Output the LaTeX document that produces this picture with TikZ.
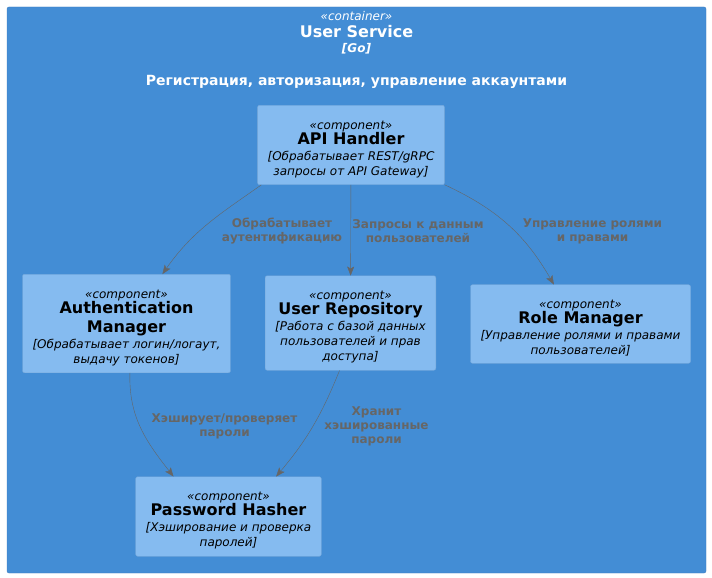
\documentclass[tikz,border=0pt]{standalone}
\usepackage{fontspec}
\setmainfont{DejaVu Sans}
\usetikzlibrary{positioning}
\usetikzlibrary{arrows.meta}

\definecolor{containerfill}{HTML}{438DD5}
\definecolor{containerline}{HTML}{3C7CBF}
\definecolor{compfill}{HTML}{85BBF0}
\definecolor{compline}{HTML}{78A8D8}
\definecolor{relgray}{HTML}{666666}

\newcommand{\stereo}{\rule{0pt}{17pt}\itshape\fontsize{12}{15}\selectfont}
\newcommand{\cname}{\bfseries\fontsize{16}{15}\selectfont}
\newcommand{\cdesc}{\itshape\fontsize{12}{15}\selectfont}

\tikzset{
  box/.style       = { rectangle, rounded corners=2pt },
  container/.style = { box, draw=containerline, fill=containerfill },
  component/.style = { box, draw=compline, fill=compfill, text=black,
                       align=center, inner xsep=10pt, inner ysep=7pt,
                       font=\fontsize{12}{15}\selectfont },
  rel/.style       = { draw=relgray, thin,
                       -{Stealth[length=9pt,width=7pt,inset=2pt]} },
  rellabel/.style  = { text=relgray, align=center,
                       font=\bfseries\fontsize{12}{14}\selectfont },
}

\begin{document}
\begin{tikzpicture}[x=1pt,y=-1pt]
  \useasboundingbox (0,0) rectangle (712,578);

  \node (usersvc) [container,minimum width=699pt,minimum height=566pt] at (356.5,290) {};
  \node (usertitle) [below=1pt of usersvc.north,align=center,text=white,
                     font=\fontsize{12}{16}\selectfont] {%
    \itshape\fontsize{12}{16}\selectfont «container»\\[1pt]
    \bfseries\fontsize{16}{16}\selectfont User Service\\[-1pt]
    \bfseries\itshape\fontsize{12}{16}\selectfont [Go]\\[17pt]
    \bfseries\fontsize{14}{16}\selectfont Регистрация, авторизация, управление аккаунтами};

  \node (api) [component] at (351,145) {%
    \stereo «component»\\
    \cname API Handler\\[1pt]
    \cdesc [Обрабатывает REST/gRPC\\
    \cdesc запросы от API Gateway]};
  \node (auth) [component] at (126.5,323.5) {%
    \stereo «component»\\
    \cname Authentication\\[4pt]
    \cname Manager\\[1pt]
    \cdesc [Обрабатывает логин/логаут,\\
    \cdesc выдачу токенов]};
  \node (repo) [component] at (350.5,323) {%
    \stereo «component»\\
    \cname User Repository\\[1pt]
    \cdesc [Работа с базой данных\\
    \cdesc пользователей и прав\\
    \cdesc доступа]};
  \node (role) [component] at (580.5,324) {%
    \stereo «component»\\
    \cname Role Manager\\[1pt]
    \cdesc [Управление ролями и правами\\
    \cdesc пользователей]};
  \node (hasher) [component] at (228.5,516.5) {%
    \stereo «component»\\
    \cname Password Hasher\\[1pt]
    \cdesc [Хэширование и проверка\\
    \cdesc паролей]};

  % relations
  \draw [rel] (api.-156) to[out=-145,in=55]  (auth.54);
  \draw [rel] (api) -- (repo);
  \draw [rel] (api.-23)  to[out=-25,in=120]  (role.124);
  \draw [rel] (auth.-86) to[out=-92,in=128]  (hasher.144);
  \draw [rel] (repo.-103) to[out=-112,in=50] (hasher.40);

  \node (authlbl)   [rellabel] at (282,231)   {Обрабатывает\\аутентификацию};
  \node (repolbl)   [rellabel] at (418,231)   {Запросы к данным\\пользователей};
  \node (rolelbl)   [rellabel] at (592.5,231) {Управление ролями\\и правами};
  \node (hashlbl)   [rellabel] at (224.5,426) {Хэширует/проверяет\\пароли};
  \node (storelbl)  [rellabel] at (376.5,426) {Хранит\\хэшированные\\пароли};
\end{tikzpicture}
\end{document}
